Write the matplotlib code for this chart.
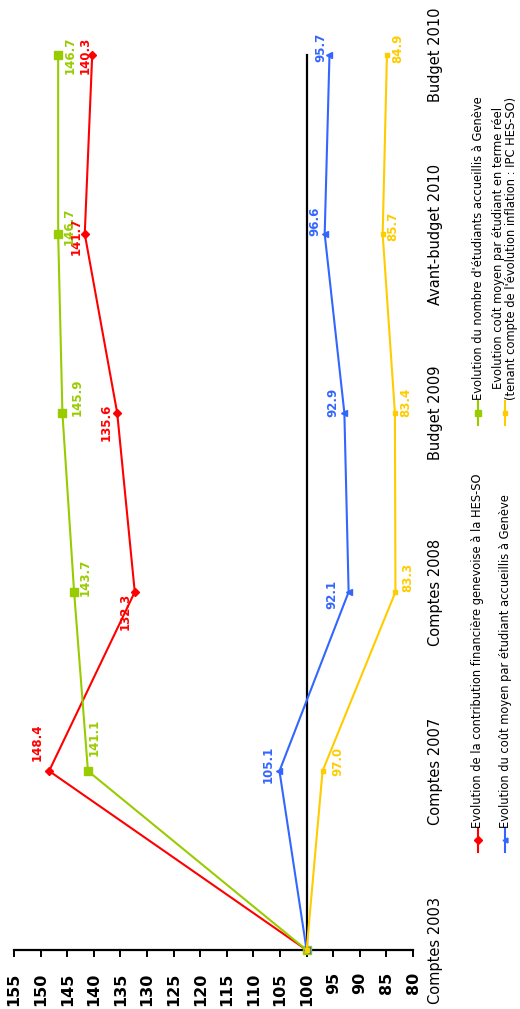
import matplotlib
matplotlib.use("Agg")
import matplotlib.pyplot as plt
from matplotlib.lines import Line2D

# --- data -------------------------------------------------------------
categories = ["Comptes 2003", "Comptes 2007", "Comptes 2008",
              "Budget 2009", "Avant-budget 2010", "Budget 2010"]
contribution = [100.0, 148.4, 132.3, 135.6, 141.7, 140.3]
etudiants = [100.0, 141.1, 143.7, 145.9, 146.7, 146.7]
cout_moyen = [100.0, 105.1, 92.1, 92.9, 96.6, 95.7]
cout_reel = [100.0, 97.0, 83.3, 83.4, 85.7, 84.9]
value_ticks = [155, 150, 145, 140, 135, 130, 125, 120, 115, 110,
               105, 100, 95, 90, 85, 80]

legend_labels = [
    "Evolution de la contribution financière genevoise à la HES-SO",
    "Evolution du nombre d'étudiants accueillis à Genève",
    "Evolution du coût moyen par étudiant accueillis à Genève",
    "Evolution coût moyen par étudiant en terme réel\n"
    "(tenant compte de l'évolution inflation : IPC HES-SO)",
]

RED, GREEN, BLUE, YELLOW = "#FF0000", "#99CC00", "#3366FF", "#FFCC00"

W, H, DPI = 520, 1009, 100
fig = plt.figure(figsize=(W / DPI, H / DPI), dpi=DPI)
plt.rcParams["font.family"] = ["DejaVu Sans"]


def fx(px):
    return px / W


def fy(py):
    return 1 - py / H


# chart is laid out sideways: values run horizontally, categories vertically
ax = fig.add_axes([fx(14), fy(950), fx(413) - fx(14), fy(55) - fy(950)])
ax.set_xlim(155, 80)
ax.set_ylim(0, len(categories) - 1)
ypos = list(range(len(categories)))

# reference line at 100
ax.plot([100, 100], [0, len(categories) - 1], color="black", lw=1.6,
        zorder=1, clip_on=False)

series = [
    (contribution, RED, "D", 4.5, [(-12, -29), (-10, 19), (-11, 9), (-9, 2), (-7, 0)]),
    (etudiants, GREEN, "s", 5.5, [(6, -34), (11, -15), (15, -16), (11, -8), (12, 0)]),
    (cout_moyen, BLUE, "<", 4.0, [(-11, -7), (-17, 2), (-11, -11), (-10, -13), (-9, -8)]),
    (cout_reel, YELLOW, "s", 3.5, [(15, -10), (12, -15), (11, -11), (10, -8), (11, -7)]),
]

for vals, col, mk, ms, offs in series:
    ax.plot(vals, ypos, color=col, lw=1.5, marker=mk, markersize=ms,
            markeredgecolor=col, markerfacecolor=col, clip_on=False, zorder=3)
    for i in range(1, len(vals)):
        dx, dy = offs[i - 1]
        ax.annotate(f"{vals[i]:.1f}", (vals[i], ypos[i]), xytext=(dx, -dy),
                    textcoords="offset pixels", rotation=90,
                    ha="center", va="center", color=col,
                    fontsize=8.5, fontweight="bold", zorder=4)

# axes styling
for side in ("top", "left", "right"):
    ax.spines[side].set_visible(False)
ax.spines["bottom"].set_linewidth(1.6)
ax.set_xticks(value_ticks)
ax.set_xticklabels([str(v) for v in value_ticks], rotation=90,
                   fontsize=11.5, fontweight="bold")
ax.tick_params(axis="x", direction="out", length=5, width=1.4, pad=11)

ax.yaxis.tick_right()
ax.set_yticks(ypos)
ax.set_yticklabels(categories, rotation=90, va="center", fontsize=10.5)
ax.tick_params(axis="y", length=0, pad=11)

# legend drawn sideways
legend_items = [
    (RED, "D", 4.0, 478, 840, 828),
    (GREEN, "s", 5.0, 478, 413, 400),
    (BLUE, "<", 3.5, 505, 840, 828),
    (YELLOW, "s", 3.5, 505, 413, 400),
]
for (col, mk, ms, x, ymk, ytxt), lab in zip(legend_items, legend_labels):
    fig.add_artist(Line2D([fx(x), fx(x)], [fy(ymk + 12), fy(ymk - 12)],
                          color=col, lw=1.5, transform=fig.transFigure))
    fig.add_artist(Line2D([fx(x)], [fy(ymk)], color=col, marker=mk,
                          markersize=ms, markerfacecolor=col,
                          markeredgecolor=col, transform=fig.transFigure))
    fig.text(fx(x), fy(ytxt), lab, rotation=90, ha="center", va="bottom",
             fontsize=8.3, linespacing=0.95, color="black")

fig.savefig("out.png", dpi=DPI, facecolor="white")
